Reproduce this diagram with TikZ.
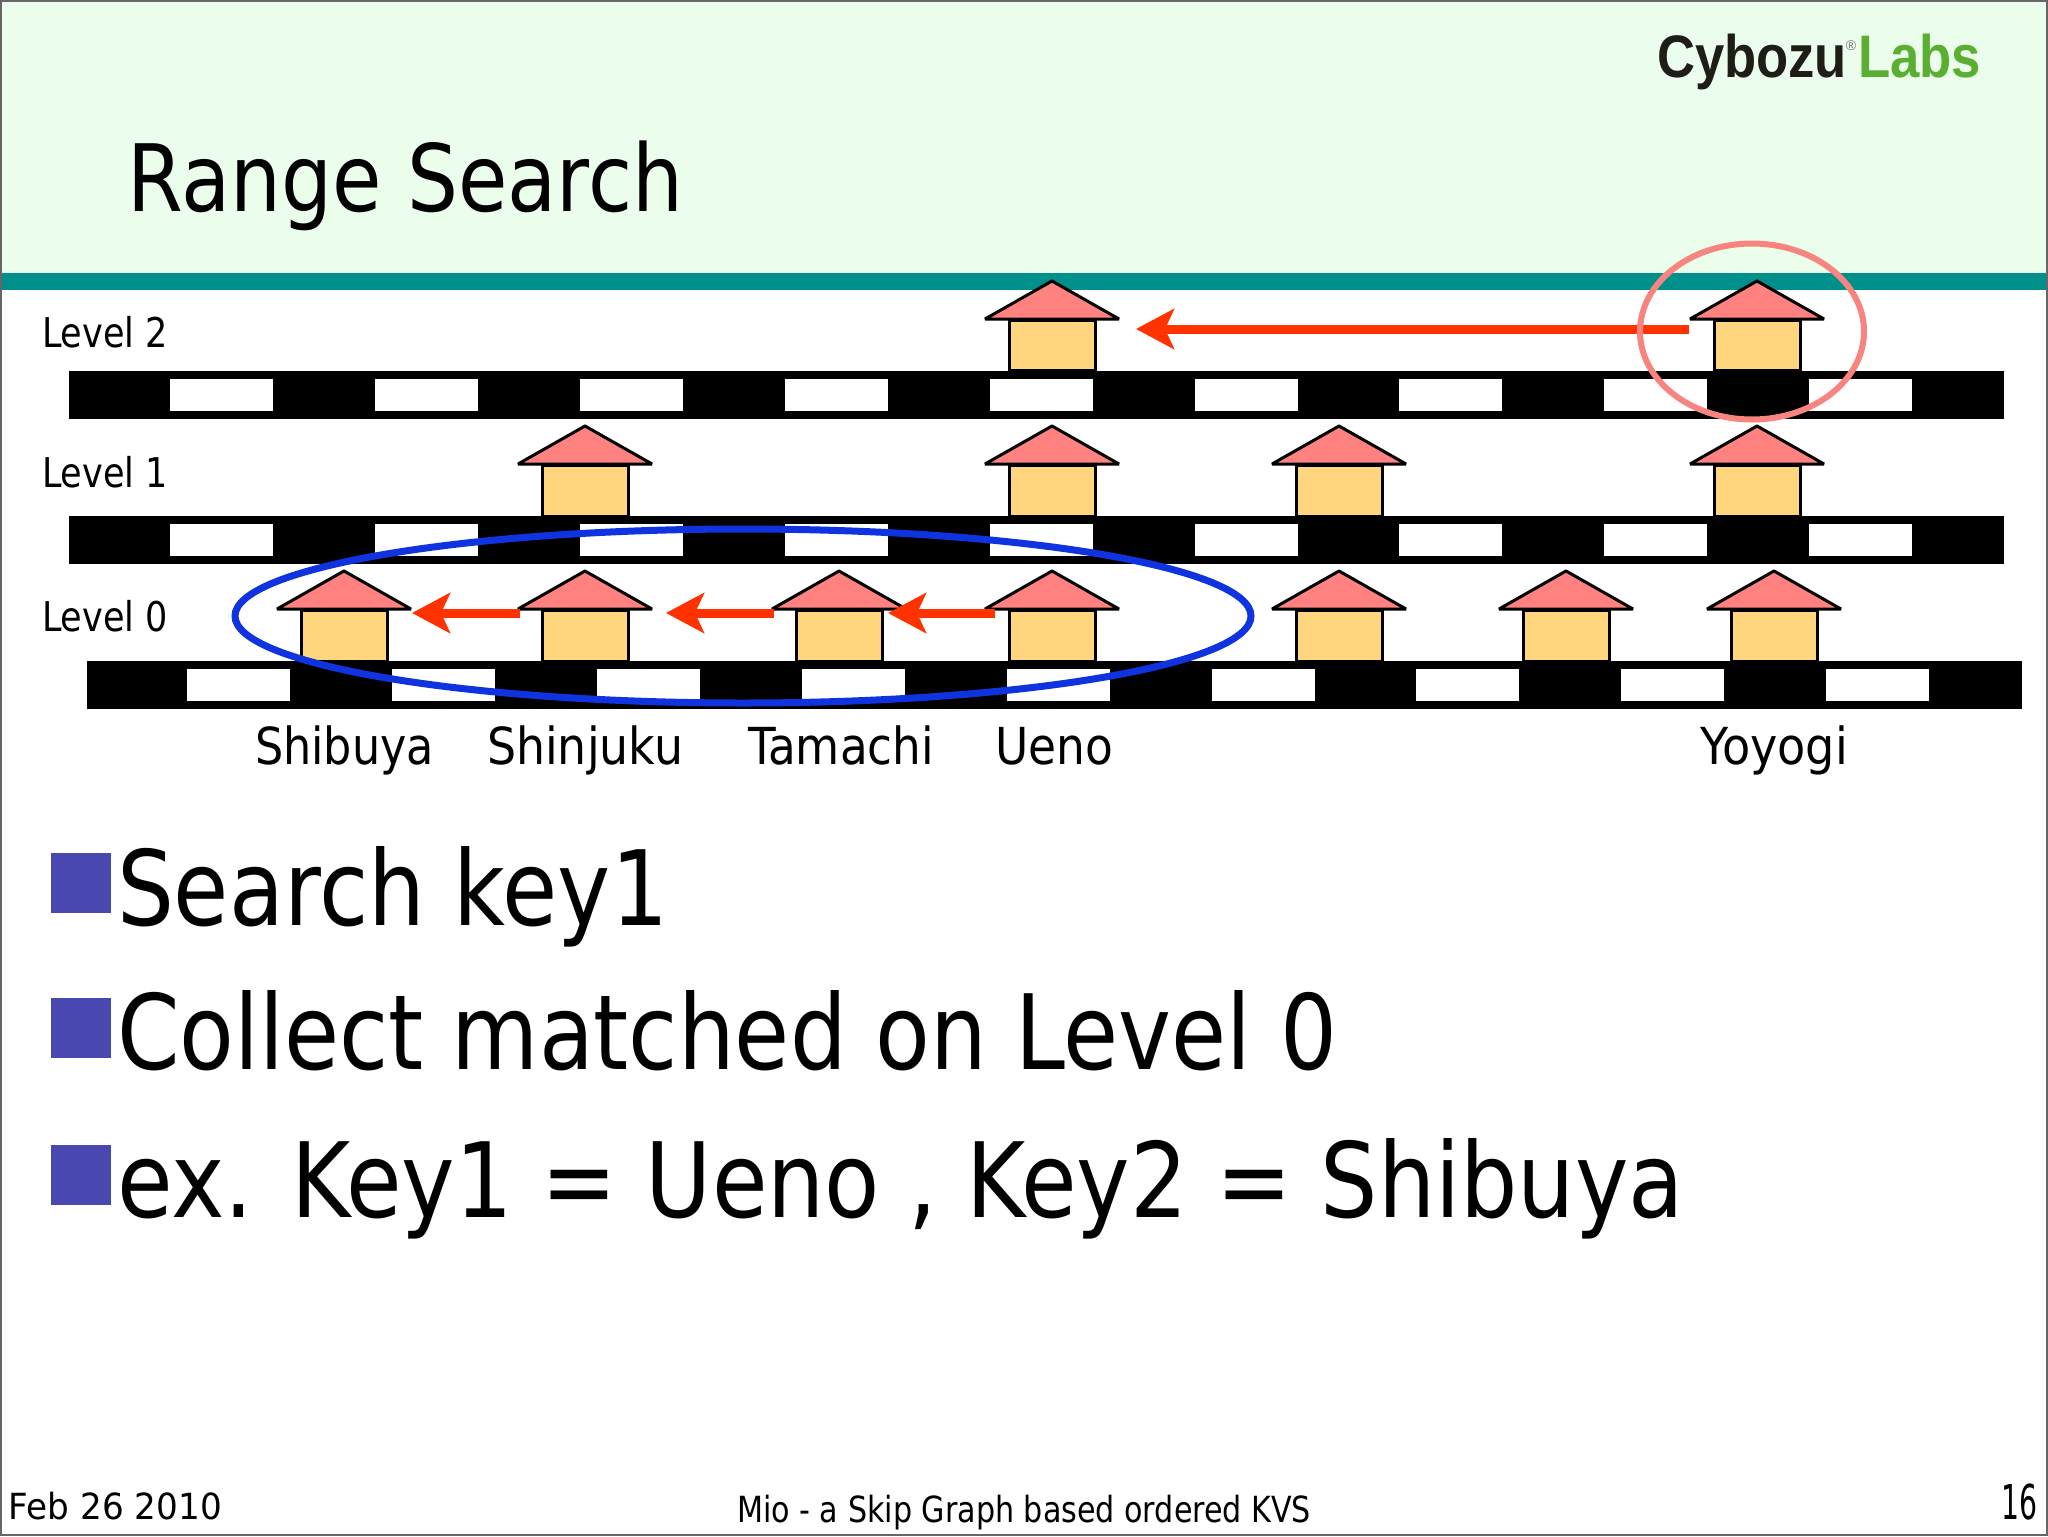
\documentclass[tikz,border=0pt]{standalone}
\usepackage{graphicx}
\usepackage{fontspec}
\setmainfont{DejaVu Sans}
\newfontfamily\logofont{Liberation Sans}[BoldFont={Liberation Sans Bold}]
\usetikzlibrary{arrows.meta}
\definecolor{hdr}{HTML}{EBFEEC}
\definecolor{teal2}{HTML}{00908C}
\definecolor{roofc}{HTML}{FF8280}
\definecolor{bodyc}{HTML}{FFD67E}
\definecolor{redarrow}{HTML}{FF3200}
\definecolor{blueoval}{HTML}{1033E0}
\definecolor{pinkoval}{HTML}{F88480}
\definecolor{bulletc}{HTML}{4848B0}
\definecolor{logodark}{HTML}{1E1E14}
\definecolor{logogreen}{HTML}{5AAE32}
\newcommand{\fitw}[2]{\resizebox{#1}{\height}{#2}}
\newcommand{\fsz}[1]{\fontsize{#1}{#1}\selectfont}
\tikzset{
  txt/.style={anchor=base west,inner sep=0pt,outer sep=0pt,text=black},
  housebody/.style={draw=black,line width=1.5pt,fill=bodyc,inner sep=0pt,minimum width=43pt,anchor=north},
  roofline/.style={draw=black,line width=1.5pt,fill=roofc,line join=bevel},
  search/.style={redarrow,line width=4.5pt,-{Stealth[length=19pt,width=20pt,inset=4.5pt]}},
  bulletsq/.style={fill=bulletc,inner sep=0pt,minimum width=30pt,minimum height=30pt,anchor=north west},
  trackhole/.style={fill=white}
}
% name, centre x, apex y, base y, bottom y
\newcommand{\house}[5]{%
  \path[roofline] (#2,#3) -- (#2+67,#4) -- (#2-67,#4) -- cycle;
  \node[housebody,minimum height={(#5-#4)*0.5pt}] (#1) at (#2,#4) {};
}
\newcommand{\track}[4]{% left, right, top, first hole x
  \fill[black] (#1,#3) rectangle (#2,#3+48);
  \foreach \k in {0,...,8} \fill[trackhole] ({#4+204.9*\k},#3+8) rectangle ({#4+204.9*\k+103},#3+40);
}
\begin{document}
\begin{tikzpicture}[x=0.5pt,y=-0.5pt]
\path[use as bounding box] (0,0) rectangle (2048,1536);
\fill[white] (0,0) rectangle (2048,1536);
\fill[hdr] (0,0) rectangle (2048,273);
\fill[teal2] (0,273) rectangle (2048,290);
\draw[black!60,line width=1pt] (1,1) rectangle (2047,1535);

\node[txt] (title) at (127,211) {\fitw{278pt}{\fsz{46.5pt}Range Search}};
\node[txt,text=logodark] (logoa) at (1657,78) {\fitw{95pt}{\logofont\bfseries\fsz{30pt}Cybozu}};
\node[anchor=center,inner sep=0pt,text=black!55] (logor) at (1851,46) {\fsz{7pt}\logofont ®};
\node[txt,text=logogreen] (logob) at (1858,78) {\fitw{61.5pt}{\logofont\bfseries\fsz{30pt}Labs}};

\track{69}{2004}{371}{170}
\track{69}{2004}{516}{170}
\track{87}{2022}{661}{187}

\node[txt] (lv2) at (42,347) {\fitw{63pt}{\fsz{20.5pt}Level 2}};
\node[txt] (lv1) at (42,487) {\fitw{63pt}{\fsz{20.5pt}Level 1}};
\node[txt] (lv0) at (42,631) {\fitw{63pt}{\fsz{20.5pt}Level 0}};

\house{ha}{1052}{281}{319}{369}
\house{hb}{1757}{281}{319}{369}
\house{hc}{585}{426}{464}{515}
\house{hd}{1052}{426}{464}{515}
\house{he}{1339}{426}{464}{515}
\house{hf}{1757}{426}{464}{515}
\house{hg}{344}{571}{609}{660}
\house{hh}{585}{571}{609}{660}
\house{hi}{839}{571}{609}{660}
\house{hj}{1052}{571}{609}{660}
\house{hk}{1339}{571}{609}{660}
\house{hl}{1566}{571}{609}{660}
\house{hm}{1774}{571}{609}{660}

\coordinate (a1s) at (1689,329); \coordinate (a1e) at (1136,329);
\coordinate (a2s) at (520,613);  \coordinate (a2e) at (412,613);
\coordinate (a3s) at (774,613);  \coordinate (a3e) at (666,613);
\coordinate (a4s) at (995,613);  \coordinate (a4e) at (888,613);
\draw[search] (a1s) -- (a1e);
\draw[search] (a2s) -- (a2e);
\draw[search] (a3s) -- (a3e);
\draw[search] (a4s) -- (a4e);

\draw[blueoval,line width=3.5pt] (743,616) ellipse [x radius=508,y radius=87];
\draw[pinkoval,line width=3pt] (1752,331.5) ellipse [x radius=112,y radius=88];

\node[txt] (shibuya) at (255,764) {\fitw{89.5pt}{\fsz{25.5pt}Shibuya}};
\node[txt] (shinjuku) at (487,764) {\fitw{98pt}{\fsz{25.5pt}Shinjuku}};
\node[txt] (tamachi) at (748,764) {\fitw{93pt}{\fsz{25.5pt}Tamachi}};
\node[txt] (ueno) at (995,764) {\fitw{59pt}{\fsz{25.5pt}Ueno}};
\node[txt] (yoyogi) at (1700,764) {\fitw{74pt}{\fsz{25.5pt}Yoyogi}};

\node[bulletsq] (b1) at (51,853) {};
\node[bulletsq] (b2) at (51,998) {};
\node[bulletsq] (b3) at (51,1145) {};
\node[txt] (t1) at (117,925) {\fitw{275.5pt}{\fsz{52pt}Search key1}};
\node[txt] (t2) at (117,1069) {\fitw{610pt}{\fsz{52pt}Collect matched on Level 0}};
\node[txt] (t3) at (117,1217) {\fitw{783.5pt}{\fsz{52pt}ex. Key1 = Ueno , Key2 = Shibuya}};

\node[txt] (date) at (9,1519) {\fitw{106.5pt}{\fsz{18pt}Feb 26 2010}};
\node[txt] (foot) at (737,1522) {\fitw{287pt}{\fsz{18pt}Mio - a Skip Graph based ordered KVS}};
\node[txt] (page) at (2001,1519) {\fitw{18pt}{\fsz{24pt}16}};
\end{tikzpicture}
\end{document}
